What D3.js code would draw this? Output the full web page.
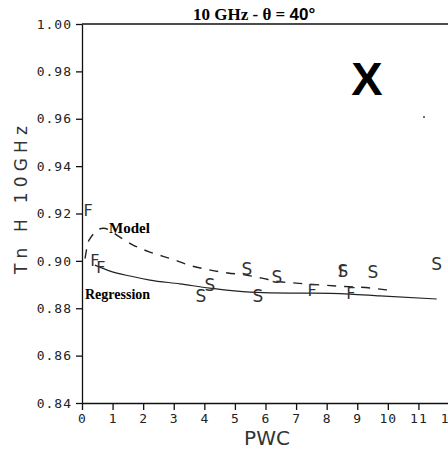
<!DOCTYPE html>
<html>
<head>
<meta charset="utf-8">
<script src="https://cdn.jsdelivr.net/npm/d3@7"></script>
<style>
  body { margin: 0; background: #fff; }
  .tick text { font-family: "DejaVu Sans Mono", monospace; font-size: 13px; fill: #222; letter-spacing: 1px; }
  .domain, .tick line { stroke: #111; stroke-width: 1.3; }
</style>
</head>
<body>
<div class="chart"></div>
<script>
// valori
const xTicks = [0, 1, 2, 3, 4, 5, 6, 7, 8, 9, 10, 11, 12];
const yTicks = [0.84, 0.86, 0.88, 0.90, 0.92, 0.94, 0.96, 0.98, 1.00];

const fX = [0.2, 0.42, 0.62, 7.52, 8.79, 8.53];
const fY = [0.9212, 0.9000, 0.8970, 0.8877, 0.8864, 0.8957];

const sX = [3.89, 4.18, 5.39, 5.75, 6.37, 8.53, 9.51, 11.6];
const sY = [0.8851, 0.8898, 0.8966, 0.8851, 0.8932, 0.8957, 0.8953, 0.8987];

const regX = [0.42, 0.92, 1.57, 2.22, 3.2, 4.18, 5.49, 6.8, 7.55, 8.76, 9.74, 11.6];
const regY = [0.8982, 0.8957, 0.8936, 0.8919, 0.8903, 0.8885, 0.8868, 0.8864, 0.8864, 0.8860, 0.8852, 0.8839];

const modX = [0.1, 0.23, 0.7, 1.24, 1.67, 2.22, 2.94, 3.5, 4.2, 4.77, 5.36, 5.88, 6.47, 7.0, 8.3, 9.48, 9.97];
const modY = [0.9010, 0.9088, 0.9138, 0.9100, 0.9067, 0.9037, 0.9008, 0.8982, 0.8961, 0.8949, 0.8940, 0.8927, 0.8912, 0.8906, 0.8894, 0.8885, 0.8877];

const width = 448;
const height = 449;

const svg = d3.select('.chart')
    .append('svg')
    .attr('width', width)
    .attr('height', height);

const x = d3.scaleLinear().domain([0, 12]).range([82, 449]);
const y = d3.scaleLinear().domain([0.84, 1.00]).range([403, 24]);

// assi
svg.append('g')
    .attr('transform', `translate(0,${y(0.84)})`)
    .call(d3.axisBottom(x).tickValues(xTicks).tickFormat(d3.format('d')).tickSize(7).tickPadding(4).tickSizeOuter(0));

svg.append('g')
    .attr('transform', `translate(${x(0)},0)`)
    .call(d3.axisLeft(y).tickValues(yTicks).tickFormat(d3.format('.2f')).tickSize(6).tickPadding(4).tickSizeOuter(0));

// bordo superiore
svg.append('line')
    .attr('x1', x(0)).attr('x2', width)
    .attr('y1', y(1.00)).attr('y2', y(1.00))
    .attr('stroke', '#111').attr('stroke-width', 1.6);

// curve
const line = d3.line()
    .x(d => x(d[0]))
    .y(d => y(d[1]))
    .curve(d3.curveMonotoneX);

svg.append('path')
    .datum(d3.zip(regX, regY))
    .attr('d', line)
    .attr('fill', 'none')
    .attr('stroke', '#222')
    .attr('stroke-width', 1.2);

svg.append('path')
    .datum(d3.zip(modX, modY))
    .attr('d', line)
    .attr('fill', 'none')
    .attr('stroke', '#222')
    .attr('stroke-width', 1.4)
    .attr('stroke-dasharray', '9,8');

// punti S e F
svg.selectAll('.ptS')
    .data(d3.zip(sX, sY))
    .join('text')
    .attr('class', 'ptS')
    .attr('x', d => x(d[0]))
    .attr('y', d => y(d[1]))
    .attr('text-anchor', 'middle')
    .attr('dominant-baseline', 'central')
    .style('font-family', 'DejaVu Sans, sans-serif')
    .style('font-size', '17px')
    .style('fill', '#333')
    .text('S');

svg.selectAll('.ptF')
    .data(d3.zip(fX, fY))
    .join('text')
    .attr('class', 'ptF')
    .attr('x', d => x(d[0]))
    .attr('y', d => y(d[1]))
    .attr('text-anchor', 'middle')
    .attr('dominant-baseline', 'central')
    .style('font-family', 'DejaVu Sans, sans-serif')
    .style('font-size', '16px')
    .style('fill', '#333')
    .text('F');

// etichette
svg.append('text')
    .attr('x', 109).attr('y', 233)
    .style('font-family', 'Liberation Serif, serif')
    .style('font-weight', 'bold')
    .style('font-size', '15px')
    .text('Model');

svg.append('text')
    .attr('x', 85).attr('y', 299)
    .style('font-family', 'Liberation Serif, serif')
    .style('font-weight', 'bold')
    .style('font-size', '14px')
    .text('Regression');

// titolo
const title = svg.append('text')
    .attr('x', 193).attr('y', 20)
    .style('font-weight', 'bold')
    .style('font-size', '17px');
title.append('tspan')
    .style('font-family', 'Liberation Serif, serif')
    .text('10 GHz - θ = ');
title.append('tspan')
    .style('font-family', 'Liberation Sans, sans-serif')
    .text('40°');

svg.append('text')
    .attr('x', 367).attr('y', 95)
    .attr('text-anchor', 'middle')
    .style('font-family', 'Liberation Sans, sans-serif')
    .style('font-weight', 'bold')
    .style('font-size', '47px')
    .text('X');

// puntino isolato
svg.append('circle')
    .attr('cx', 424).attr('cy', 117).attr('r', 1)
    .attr('fill', '#444');

// titoli assi
svg.append('text')
    .attr('x', 267).attr('y', 445)
    .attr('text-anchor', 'middle')
    .style('font-family', 'DejaVu Sans, sans-serif')
    .style('font-size', '20px')
    .style('fill', '#333')
    .text('PWC');

svg.append('text')
    .attr('transform', 'translate(27,274) rotate(-90)')
    .attr('textLength', 148)
    .attr('lengthAdjust', 'spacing')
    .style('font-family', 'DejaVu Sans, sans-serif')
    .style('font-size', '17px')
    .style('fill', '#333')
    .text('Tn H 10GHz');
</script>
</body>
</html>
